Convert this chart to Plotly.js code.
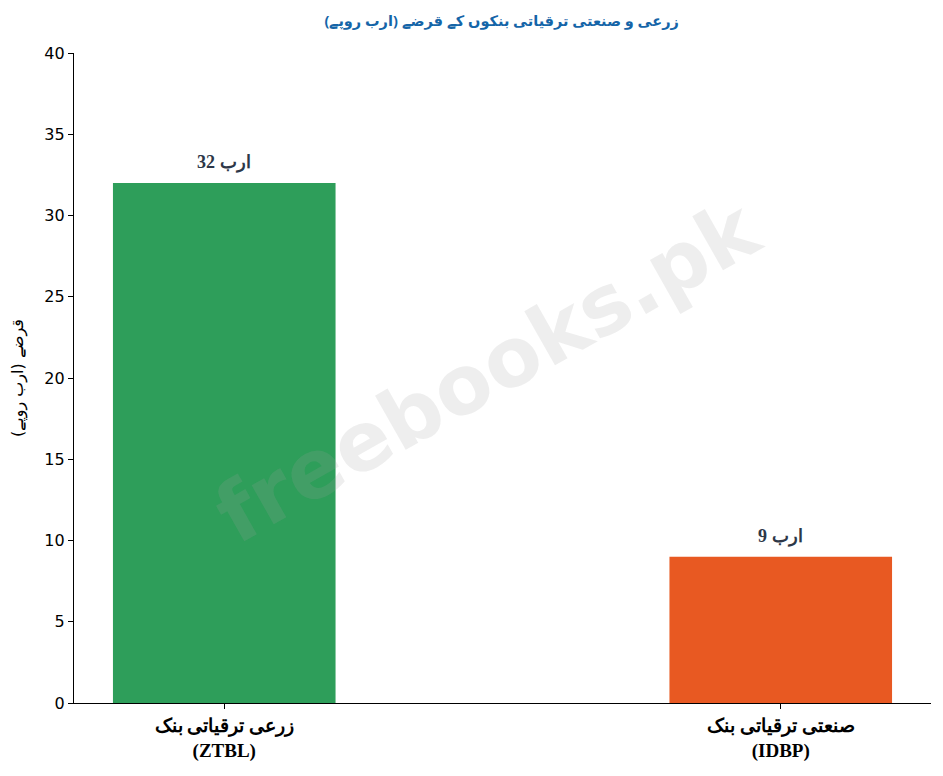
<!DOCTYPE html>
<html>
<head>
<meta charset="utf-8">
<script src="https://cdn.plot.ly/plotly-3.0.1.min.js"></script>
<style>html,body{margin:0;padding:0;background:#fff;}#chart{width:943px;height:776px;}</style>
</head>
<body>
<div id="chart"></div>
<script>
const categories = ["زرعی ترقیاتی بنک<br>(ZTBL)", "صنعتی ترقیاتی بنک<br>(IDBP)"];
const loans = [32, 9];
const barLabels = ["32 ارب", "9 ارب"];
const barColors = ["#2e9e5a", "#e85922"];
const yTicks = [0, 5, 10, 15, 20, 25, 30, 35, 40];

const positions = categories.map((c, i) => i);

const trace = {
  type: "bar",
  x: positions,
  y: loans,
  width: 0.4,
  marker: {color: barColors},
  hoverinfo: "none"
};

const labelAnnotations = positions.map((p, i) => ({
  x: p, y: loans[i], xref: "x", yref: "y",
  text: "<b>" + barLabels[i] + "</b>",
  showarrow: false, yanchor: "bottom", yshift: 8,
  font: {family: "Liberation Serif, DejaVu Serif, serif", size: 18, color: "#2d3748"}
}));

const layout = {
  width: 943, height: 776,
  margin: {l: 74, r: 12, t: 53, b: 73},
  paper_bgcolor: "#fff", plot_bgcolor: "#fff",
  showlegend: false,
  title: {text: "<b>زرعی و صنعتی ترقیاتی بنکوں کے قرضے (ارب روپے)</b>", x: 0.532, xanchor: "center", y: 0.973, yanchor: "middle",
          font: {family: "Noto Sans, DejaVu Sans, sans-serif", size: 14.5, color: "#1565a8"}},
  xaxis: {
    range: [-0.27, 1.27],
    tickmode: "array", tickvals: positions, ticktext: categories,
    showline: true, linecolor: "#000", linewidth: 1.2,
    ticks: "outside", ticklen: 5, tickcolor: "#000",
    showgrid: false, zeroline: false,
    tickfont: {family: "Liberation Serif, DejaVu Serif, serif", size: 19, color: "#000", weight: "bold"}
  },
  yaxis: {
    range: [0, 40],
    tickmode: "array", tickvals: yTicks,
    showline: true, linecolor: "#000", linewidth: 1.2,
    ticks: "outside", ticklen: 5, tickcolor: "#000",
    showgrid: false, zeroline: false,
    tickfont: {family: "DejaVu Sans, sans-serif", size: 16, color: "#000"},
    title: {text: "قرضے (ارب روپے)", font: {family: "DejaVu Sans, sans-serif", size: 16, color: "#000"}, standoff: 16}
  },
  annotations: labelAnnotations.concat([{
    text: "<b>freebooks.pk</b>", xref: "paper", yref: "paper", x: 0.483, y: 0.512,
    showarrow: false, textangle: -29.5,
    font: {family: "DejaVu Sans, sans-serif", size: 82, color: "rgba(160,160,160,0.18)"}
  }])
};

Plotly.newPlot("chart", [trace], layout, {displayModeBar: false, staticPlot: true});
</script>
</body>
</html>
